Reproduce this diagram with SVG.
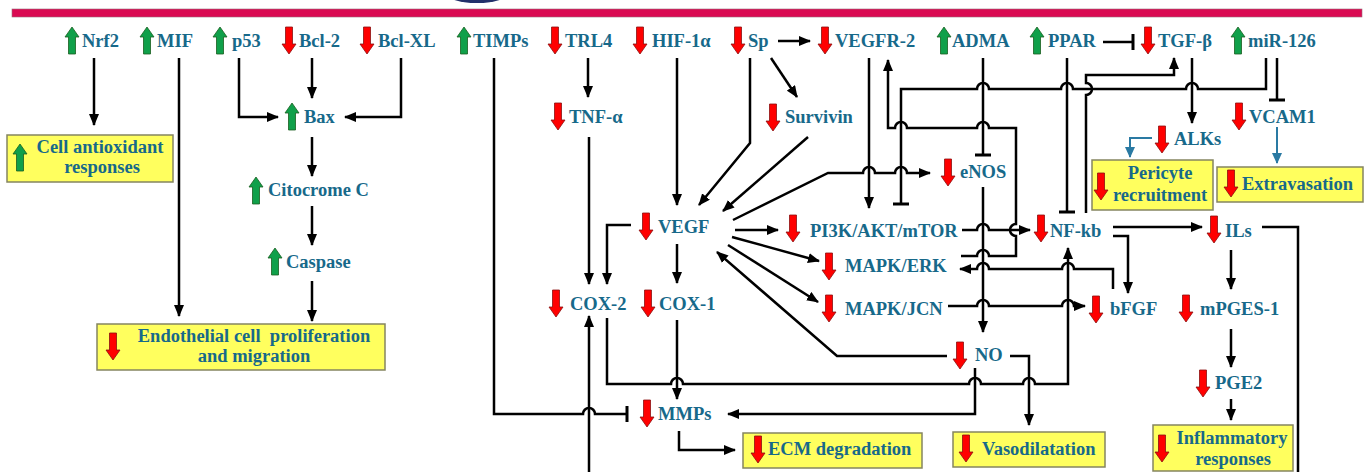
<svg xmlns="http://www.w3.org/2000/svg" xmlns:xlink="http://www.w3.org/1999/xlink" width="1370" height="472" viewBox="0 0 1370 472">
<style>
text{font-family:"Liberation Serif","Times New Roman",serif;font-weight:bold;font-size:18.5px;fill:#17698a}
.c{text-anchor:middle}
.ln{fill:none;stroke:#000;stroke-width:2.5}
.ar{marker-end:url(#ah)}
.tb{marker-end:url(#tee)}
.tl{fill:none;stroke:#2a7aa3;stroke-width:2;marker-end:url(#aht)}
.box{fill:#ffff5e;stroke:#858560;stroke-width:1.5}
</style>
<defs>
<path id="dn" d="M3.5,0 H10.5 V17 H14 L7,27 L0,17 H3.5 Z" fill="#ff0000" stroke="#8a1010" stroke-width="0.8"/>
<path id="up" d="M7,0 L14,10 H10.5 V27 H3.5 V10 H0 Z" fill="#10a04a" stroke="#1b5e20" stroke-width="0.8"/>
<marker id="ah" markerUnits="userSpaceOnUse" markerWidth="12" markerHeight="10" refX="11" refY="5" orient="auto" viewBox="0 0 12 10"><path d="M0,0 L12,5 L0,10 Z" fill="#000"/></marker>
<marker id="aht" markerUnits="userSpaceOnUse" markerWidth="11" markerHeight="10" refX="10" refY="5" orient="auto" viewBox="0 0 11 10"><path d="M0,0 L11,5 L0,10 Z" fill="#2a7aa3"/></marker>
<marker id="tee" markerUnits="userSpaceOnUse" markerWidth="4" markerHeight="16" refX="2" refY="8" orient="auto" viewBox="0 0 4 16"><path d="M2,0 V16" stroke="#000" stroke-width="3"/></marker>
</defs>
<rect width="1370" height="472" fill="#ffffff"/>
<ellipse cx="477" cy="-8" rx="33" ry="11" fill="#22306b"/>
<rect x="12" y="9" width="1350" height="8" fill="#da0a52" stroke="#9a6a7a" stroke-width="0.6"/>

<g id="connectors">
<path class="ln ar" d="M94,58 V125"/>
<path class="ln ar" d="M179,58 V316"/>
<path class="ln ar" d="M239,58 V117 H278"/>
<path class="ln ar" d="M312,58 V98"/>
<path class="ln ar" d="M401,58 V117 H345"/>
<path class="ln ar" d="M312,137 V176"/>
<path class="ln ar" d="M312,206 V245"/>
<path class="ln ar" d="M312,281 V321"/>
<path class="ln tb" d="M494,58 V414 H583 a6,6 0 0 1 12,0 H627"/>
<path class="ln ar" d="M588,58 V97"/>
<path class="ln ar" d="M589,137 V284"/>
<path class="ln ar" d="M677,58 V205"/>
<path class="ln ar" d="M631,225 H607 V284"/>
<path class="ln ar" d="M677,244 V283"/>
<path class="ln ar" d="M589,472 V316"/>
<path class="ln ar" d="M607,318 V384 H671 a6,6 0 0 1 12,0 H969 a6,6 0 0 1 12,0 H1023 a6,6 0 0 1 12,0 H1068 V248"/>
<path class="ln ar" d="M677,320 V399"/>
<path class="ln ar" d="M679,431 V450 H735"/>
<path class="ln ar" d="M778,41 H810"/>
<path class="ln ar" d="M750,58 V143 L699,205"/>
<path class="ln ar" d="M771,58 L797,97"/>
<path class="ln ar" d="M808,137 L723,211"/>
<path class="ln ar" d="M733,220 L828,173 H863 a6,6 0 0 1 12,0 H895 a6,6 0 0 1 12,0 H930"/>
<path class="ln ar" d="M735,230 H778"/>
<path class="ln ar" d="M732,237 L819,261"/>
<path class="ln ar" d="M728,245 L818,302"/>
<path class="ln ar" d="M947,356 H837 L717,252"/>
<path class="ln ar" d="M869,58 V208"/>
<path class="ln tb" d="M1266,58 V89 H1198 a6,6 0 0 0 -12,0 H1073 a6,6 0 0 0 -12,0 H989 a6,6 0 0 0 -12,0 H901 V204"/>
<path class="ln ar" d="M961,256 H977 a6,6 0 0 1 12,0 H1016 V236 a6,6 0 0 1 0,-12 V128 H989 a6,6 0 0 0 -12,0 H907 a6,6 0 0 0 -12,0 H888 V60"/>
<path class="ln ar" d="M962,230 H977 a6,6 0 0 1 12,0 H1030"/>
<path class="ln ar" d="M1113,289 V269 H1074 a6,6 0 0 0 -12,0 H989 a6,6 0 0 0 -12,0 H960"/>
<path class="ln ar" d="M948,306 H977 a6,6 0 0 1 12,0 H1062 a6,6 0 0 1 12,0 H1085"/>
<path class="ln ar" d="M1113,236 H1128 V293"/>
<path class="ln ar" d="M1113,227 H1202"/>
<path class="ln tb" d="M1067,58 V212"/>
<path class="ln ar" d="M1086,213 V95 a6,6 0 0 0 0,-12 V75 H1174 V58"/>
<path class="ln tb" d="M1103,42 H1133"/>
<path class="ln tb" d="M983,58 V155"/>
<path class="ln ar" d="M983,187 V332"/>
<path class="ln ar" d="M1192,58 V123"/>
<path class="ln tb" d="M1277,58 V100"/>
<path class="tl" d="M1277,127 V163"/>
<path class="tl" d="M1152,138 H1130 V157"/>
<path class="ln" d="M1262,227 H1298 V472"/>
<path class="ln ar" d="M1231,250 V289"/>
<path class="ln ar" d="M1231,329 V367"/>
<path class="ln ar" d="M1231,399 V420"/>
<path class="ln ar" d="M1010,356 H1029 V425"/>
<path class="ln ar" d="M975,368 V414 H728"/>
</g>

<g id="n-nrf2"><use href="#up" x="65" y="27"/><text x="82" y="47">Nrf2</text></g>
<g id="n-mif"><use href="#up" x="140" y="27"/><text x="157" y="47">MIF</text></g>
<g id="n-p53"><use href="#up" x="213" y="27"/><text x="232" y="47">p53</text></g>
<g id="n-bcl2"><use href="#dn" x="282" y="27"/><text x="299" y="47">Bcl-2</text></g>
<g id="n-bclxl"><use href="#dn" x="360" y="27"/><text x="378" y="47">Bcl-XL</text></g>
<g id="n-timps"><use href="#up" x="457" y="27"/><text x="473" y="47">TIMPs</text></g>
<g id="n-trl4"><use href="#dn" x="548" y="27"/><text x="565" y="47">TRL4</text></g>
<g id="n-hif"><use href="#dn" x="633" y="27"/><text x="652" y="47">HIF-1α</text></g>
<g id="n-sp"><use href="#dn" x="731" y="27"/><text x="748" y="47">Sp</text></g>
<g id="n-vegfr2"><use href="#dn" x="818" y="27"/><text x="835" y="47">VEGFR-2</text></g>
<g id="n-adma"><use href="#up" x="937" y="27"/><text x="952" y="47">ADMA</text></g>
<g id="n-ppar"><use href="#up" x="1030" y="27"/><text x="1048" y="47">PPAR</text></g>
<g id="n-tgfb"><use href="#dn" x="1141" y="27"/><text x="1158" y="47">TGF-β</text></g>
<g id="n-mir126"><use href="#up" x="1231" y="27"/><text x="1248" y="47">miR-126</text></g>

<g id="n-bax"><use href="#up" x="285" y="103"/><text x="304" y="123">Bax</text></g>
<g id="n-cito"><use href="#up" x="249" y="177"/><text x="268" y="196">Citocrome C</text></g>
<g id="n-casp"><use href="#up" x="268" y="248"/><text x="286" y="268">Caspase</text></g>
<g id="n-tnf"><use href="#dn" x="551" y="103"/><text x="569" y="123">TNF-α</text></g>
<g id="n-survivin"><use href="#dn" x="766" y="104"/><text x="785" y="123">Survivin</text></g>
<g id="n-vegf"><use href="#dn" x="639" y="213"/><text x="658" y="233">VEGF</text></g>
<g id="n-cox2"><use href="#dn" x="549" y="290"/><text x="570" y="310">COX-2</text></g>
<g id="n-cox1"><use href="#dn" x="641" y="290"/><text x="659" y="310">COX-1</text></g>
<g id="n-mmps"><use href="#dn" x="640" y="400"/><text x="658" y="420">MMPs</text></g>
<g id="n-pi3k"><use href="#dn" x="786" y="215"/><text x="810" y="237">PI3K/AKT/mTOR</text></g>
<g id="n-enos"><use href="#dn" x="941" y="159"/><text x="960" y="178">eNOS</text></g>
<g id="n-erk"><use href="#dn" x="822" y="253"/><text x="845" y="272">MAPK/ERK</text></g>
<g id="n-jcn"><use href="#dn" x="822" y="295"/><text x="845" y="315">MAPK/JCN</text></g>
<g id="n-no"><use href="#dn" x="953" y="342"/><text x="975" y="361">NO</text></g>
<g id="n-nfkb"><use href="#dn" x="1034" y="215"/><text x="1050" y="237">NF-kb</text></g>
<g id="n-bfgf"><use href="#dn" x="1089" y="296"/><text x="1110" y="315">bFGF</text></g>
<g id="n-ils"><use href="#dn" x="1207" y="216"/><text x="1225" y="237">ILs</text></g>
<g id="n-mpges"><use href="#dn" x="1179" y="295"/><text x="1200" y="315">mPGES-1</text></g>
<g id="n-pge2"><use href="#dn" x="1196" y="370"/><text x="1215" y="389">PGE2</text></g>
<g id="n-alks"><use href="#dn" x="1155" y="126"/><text x="1174" y="145">ALKs</text></g>
<g id="n-vcam1"><use href="#dn" x="1232" y="103"/><text x="1249" y="123">VCAM1</text></g>

<g id="b-antiox"><rect class="box" x="7" y="135" width="166" height="47"/><use href="#up" x="13" y="144"/><text class="c" x="100" y="153">Cell antioxidant</text><text class="c" x="102" y="173">responses</text></g>
<g id="b-endo"><rect class="box" x="97" y="324" width="288" height="46"/><use href="#dn" x="106" y="333"/><text class="c" x="254" y="342" xml:space="preserve">Endothelial cell  proliferation</text><text class="c" x="254" y="362">and migration</text></g>
<g id="b-ecm"><rect class="box" x="743" y="433" width="179" height="35"/><use href="#dn" x="751" y="436"/><text x="768" y="455">ECM degradation</text></g>
<g id="b-vaso"><rect class="box" x="953" y="432" width="152" height="35"/><use href="#dn" x="959" y="435"/><text x="982" y="455">Vasodilatation</text></g>
<g id="b-inflam"><rect class="box" x="1153" y="425" width="140" height="46"/><use href="#dn" x="1155" y="435"/><text class="c" x="1232" y="444">Inflammatory</text><text class="c" x="1233" y="465">responses</text></g>
<g id="b-peri"><rect class="box" x="1092" y="160" width="121" height="50"/><use href="#dn" x="1094" y="173"/><text class="c" x="1160" y="179">Pericyte</text><text class="c" x="1160" y="201">recruitment</text></g>
<g id="b-extra"><rect class="box" x="1217" y="167" width="146" height="35"/><use href="#dn" x="1224" y="170"/><text x="1242" y="190">Extravasation</text></g>
</svg>
